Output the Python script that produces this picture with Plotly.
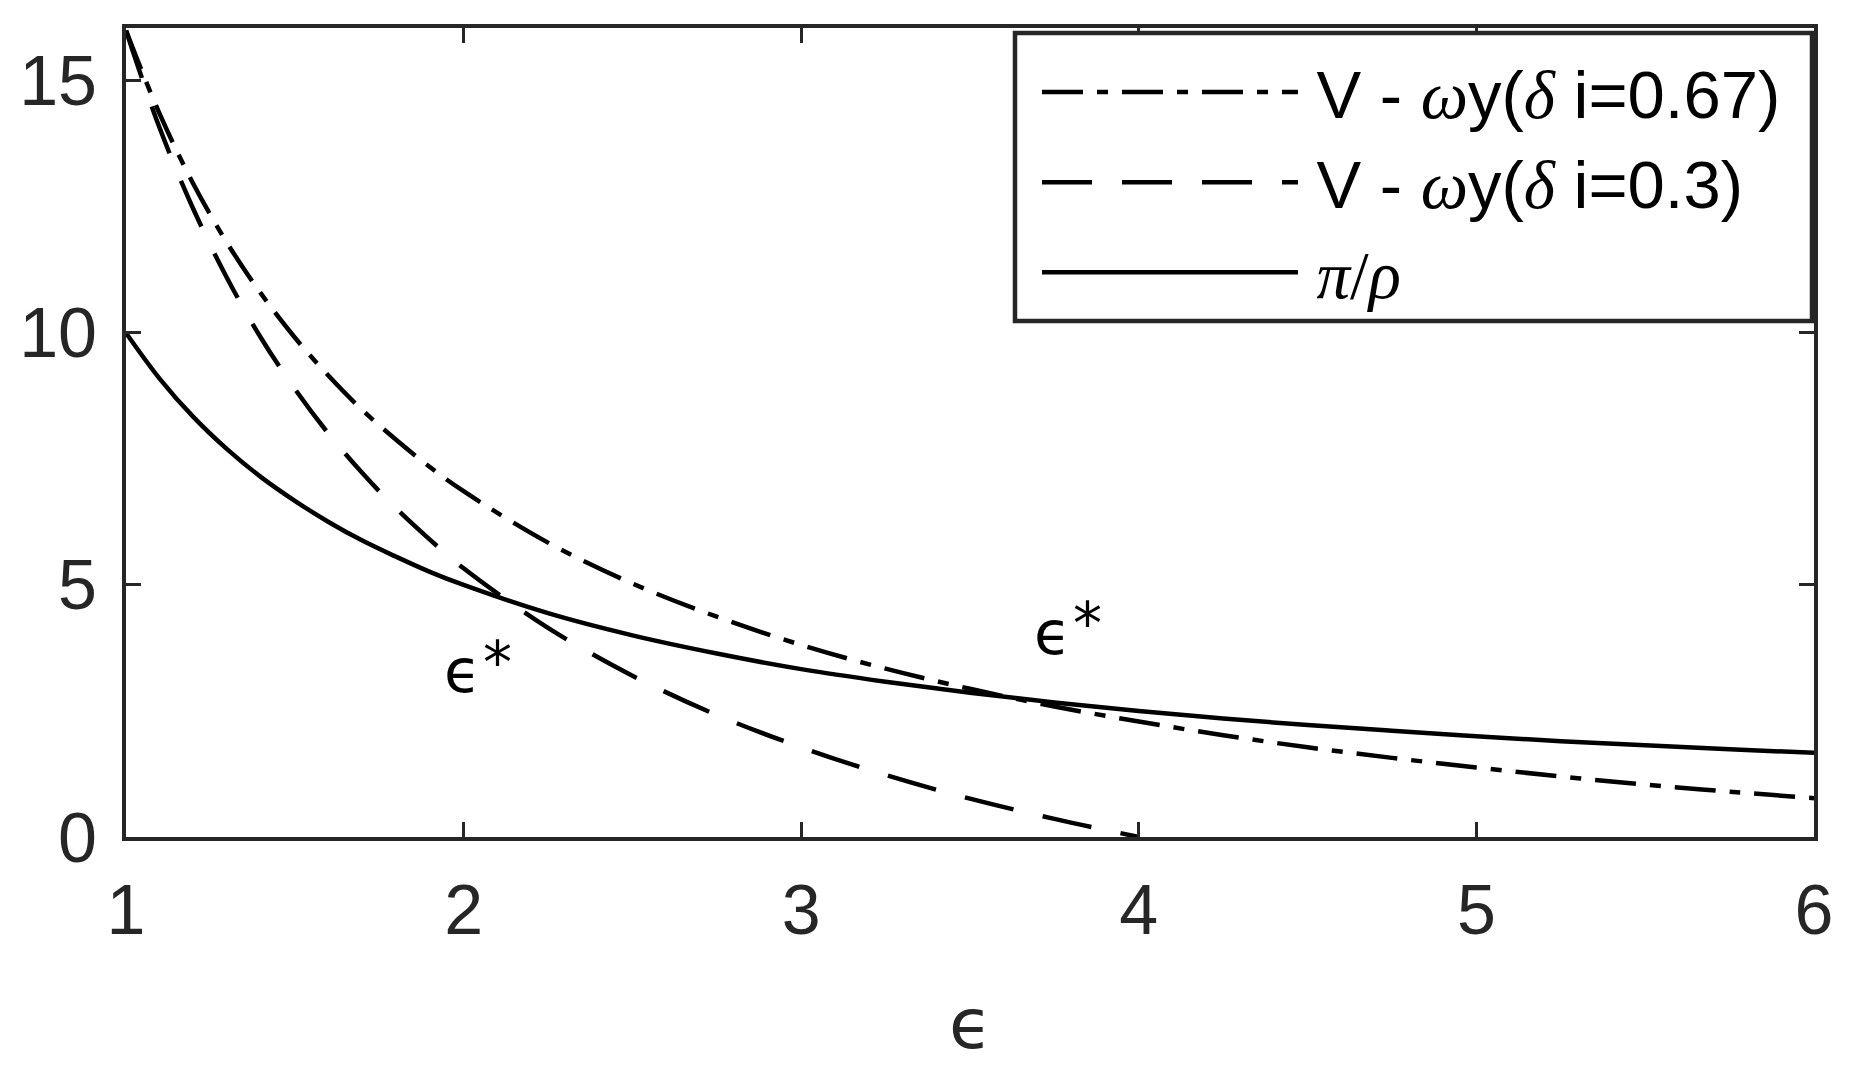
import plotly.graph_objects as go

# Data
eps = [1.0, 1.1, 1.2, 1.3, 1.4, 1.5, 1.6, 1.7, 1.8, 1.9, 2.0, 2.25, 2.5, 2.75,
       3.0, 3.25, 3.5, 3.75, 4.0, 4.25, 4.5, 4.75, 5.0, 5.25, 5.5, 5.75, 6.0]
v_067 = [16.0, 14.34, 12.95, 11.78, 10.78, 9.91, 9.15, 8.47, 7.88, 7.34, 6.86,
         5.84, 5.03, 4.37, 3.81, 3.34, 2.94, 2.59, 2.29, 2.02, 1.78, 1.57, 1.38,
         1.20, 1.04, 0.90, 0.77]
eps_03 = [1.0, 1.1, 1.2, 1.3, 1.4, 1.5, 1.6, 1.7, 1.8, 1.9, 2.0, 2.25, 2.5, 2.75,
          3.0, 3.25, 3.5, 3.75, 4.0]
v_03 = [16.0, 14.06, 12.45, 11.08, 9.90, 8.89, 8.00, 7.22, 6.52, 5.90, 5.33,
        4.15, 3.20, 2.42, 1.78, 1.23, 0.76, 0.36, 0.0]
pi_rho = [10.0, 9.09, 8.33, 7.69, 7.14, 6.67, 6.25, 5.88, 5.56, 5.26, 5.0,
          4.44, 4.0, 3.64, 3.33, 3.08, 2.86, 2.67, 2.5, 2.35, 2.22, 2.11, 2.0,
          1.9, 1.82, 1.74, 1.67]

x_ticks = [1, 2, 3, 4, 5, 6]
y_ticks = [0, 5, 10, 15]

SERIF = "'Liberation Serif', 'DejaVu Serif', serif"
GAP = "\u2009"
name_067 = (GAP + "V - <span style=\"font-family:" + SERIF + "\"><i>ω</i></span>y("
            "<span style=\"font-family:" + SERIF + "\"><i>δ</i></span> i=0.67)")
name_03 = (GAP + "V - <span style=\"font-family:" + SERIF + "\"><i>ω</i></span>y("
           "<span style=\"font-family:" + SERIF + "\"><i>δ</i></span> i=0.3)")
name_pr = (GAP + "<span style=\"font-family:" + SERIF + "\"><i>π</i>/<i>ρ</i></span>")

AX = "#262626"
LW = 4.5

fig = go.Figure()
fig.add_trace(go.Scatter(x=eps, y=v_067, mode="lines", name=name_067,
                         line=dict(color="black", width=LW, dash="41px,14px,11px,14px",
                                   shape="spline", smoothing=1.0)))
fig.add_trace(go.Scatter(x=eps_03, y=v_03, mode="lines", name=name_03,
                         line=dict(color="black", width=LW, dash="50px,30px",
                                   shape="spline", smoothing=1.0)))
fig.add_trace(go.Scatter(x=eps, y=pi_rho, mode="lines", name=name_pr,
                         line=dict(color="black", width=LW, shape="spline", smoothing=1.0)))

# page has an 8px body margin; figure coords = page coords - 8
OFF = 8
W, H = 1851 - OFF, 1067 - OFF
PL, PR, PT, PB = 126, 1814, 28, 837   # plot area in page pixels
L, T = PL - OFF, PT - OFF
R = W - (PR - OFF)
B = H - (PB - OFF)
pw, ph = W - L - R, H - T - B

def px2paper_x(px):
    return (px - PL) / pw

def px2paper_y(py):
    return (PB - py) / ph

# Legend frame
fig.add_shape(type="rect", xref="paper", yref="paper",
              x0=px2paper_x(1015), x1=px2paper_x(1812),
              y0=px2paper_y(321), y1=px2paper_y(33),
              line=dict(color=AX, width=4.5), fillcolor="white", layer="above")

# epsilon* annotations
labels = [
    dict(eps_x=1.998, eps_y=3.29, star_x=2.100, star_y=3.45),
    dict(eps_x=3.744, eps_y=4.05, star_x=3.848, star_y=4.23),
]
for lab in labels:
    fig.add_annotation(x=lab["eps_x"], y=lab["eps_y"], xref="x", yref="y",
                       text="ϵ", showarrow=False, xanchor="center", yanchor="middle",
                       font=dict(family="DejaVu Sans", size=60, color="black"))
    fig.add_annotation(x=lab["star_x"], y=lab["star_y"], xref="x", yref="y",
                       text="*", showarrow=False, xanchor="center", yanchor="middle",
                       font=dict(family="DejaVu Sans", size=58, color="black"))

# x-axis title
fig.add_annotation(x=0.5, y=px2paper_y(1024), xref="paper", yref="paper",
                   text="ϵ", showarrow=False, xanchor="center", yanchor="middle",
                   font=dict(family="DejaVu Sans", size=70, color=AX))

axis_common = dict(showgrid=False, zeroline=False, showline=True, linecolor=AX,
                   linewidth=4, ticks="inside", ticklen=15, tickwidth=3, tickcolor=AX,
                   mirror="ticks",
                   tickfont=dict(family="Liberation Sans, Arial, sans-serif", size=70, color=AX))

fig.update_xaxes(range=[1, 6], tickvals=x_ticks, ticktext=[str(v) for v in x_ticks],
                 ticklabelstandoff=9, **axis_common)
fig.update_yaxes(range=[0, 16.05], tickvals=y_ticks, ticktext=[str(v) for v in y_ticks],
                 ticklabelstandoff=11, **axis_common)

fig.update_layout(
    width=W, height=H,
    margin=dict(l=L, r=R, t=T, b=B, autoexpand=False),
    paper_bgcolor="white", plot_bgcolor="white",
    showlegend=True,
    legend=dict(x=px2paper_x(1037), y=px2paper_y(42), xanchor="left", yanchor="top",
                bgcolor="rgba(0,0,0,0)", borderwidth=0, itemwidth=256,
                font=dict(family="Liberation Sans, Arial, sans-serif", size=67, color="black"),
                tracegroupgap=0),
)

fig.write_html("out.html")
